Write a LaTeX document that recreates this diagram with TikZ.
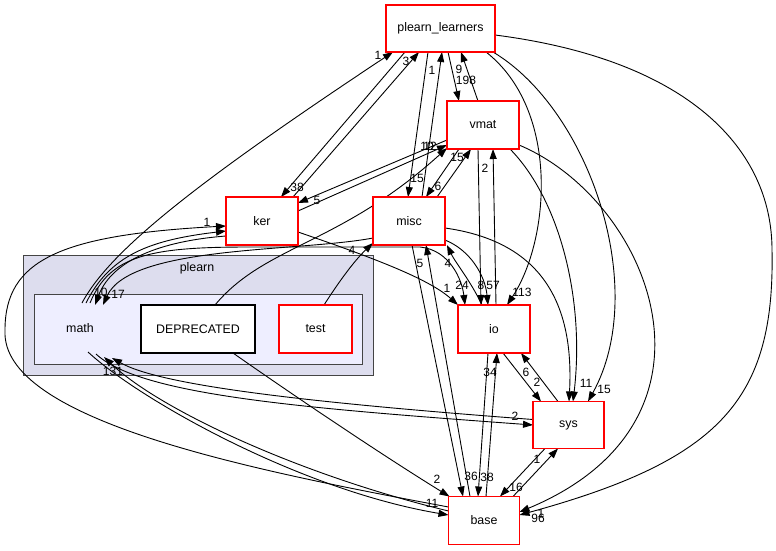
\documentclass[tikz,border=0pt]{standalone}
\usepackage{fontspec}
\setmainfont{Liberation Sans}
\usetikzlibrary{arrows.meta,backgrounds}
\definecolor{outerfill}{HTML}{DDDDEE}
\definecolor{innerfill}{HTML}{EEEEFF}
\definecolor{clborder}{HTML}{444444}
\definecolor{boxred}{HTML}{FF0000}
\begin{document}
\begin{tikzpicture}[x=1pt,y=-1pt,
  dirbox/.style={fill=white, outer sep=0pt, minimum width=72pt, minimum height=48pt, inner sep=0pt, font=\fontsize{12.4}{14}\selectfont},
  edge/.style={draw=black, line width=0.9pt, -{Triangle[length=10pt,width=7pt]}},
  lbl/.style={font=\fontsize{12}{14}\selectfont, inner sep=0pt},
  cltext/.style={font=\fontsize{12.4}{14}\selectfont, inner sep=0pt},
  outline/.style={draw=boxred, line width=1.4pt},
  outlineblack/.style={draw=black, line width=1.2pt}]
\useasboundingbox (0,0) rectangle (776,551);
% cluster labels
\node[cltext] (plearnlbl) at (197,268) {plearn};
\node[cltext] (math) at (80,328) {math};
% nodes
\node[dirbox, minimum width=109pt, minimum height=47pt] (pl) at (440.5,28.5) {plearn\_learners};
\node[dirbox] (vmat) at (483,125) {vmat};
\node[dirbox] (ker) at (262,221) {ker};
\node[dirbox] (misc) at (409,221) {misc};
\node[dirbox] (io) at (494,329) {io};
\node[dirbox, minimum width=71pt, minimum height=47pt] (sys) at (568.5,425) {sys};
\node[dirbox, minimum width=71pt] (base) at (484,520.5) {base};
\node[dirbox, minimum width=114pt] (dep) at (198,329) {DEPRECATED};
\node[dirbox, minimum width=73pt] (test) at (315.5,329) {test};
% math ports
\coordinate (m1) at (82,303);
\coordinate (m2) at (90,303);
\coordinate (m3) at (95,305);
\coordinate (m4) at (103,305);
\coordinate (m5) at (86,303);
\coordinate (m6) at (88,352);
\coordinate (m7) at (104,357);
\coordinate (m8) at (112,358);
\coordinate (m9) at (96,354);
\coordinate (fl) at (5,330);
\coordinate (fr) at (772,250);
\begin{pgfonlayer}{background}
% clusters
\filldraw[fill=outerfill, draw=clborder, line width=1pt] (23,255) rectangle (373,375);
\filldraw[fill=innerfill, draw=clborder, line width=1pt] (34,294) rectangle (362,364);
% edges
\draw[edge] (m1) .. controls (110,250) and (200,180) .. ([xshift=-47.5pt]pl.south);
\draw[edge] ([xshift=-35.5pt]pl.south) -- ([xshift=19pt]ker.north);
\draw[edge] ([xshift=31pt]ker.north) -- ([xshift=-21.5pt]pl.south);
\draw[edge] ([xshift=-12.5pt]pl.south) -- ([xshift=-1pt]misc.north);
\draw[edge] ([xshift=13pt]misc.north) -- ([xshift=1.5pt]pl.south);
\draw[edge] ([xshift=7.5pt]pl.south) -- ([xshift=-24pt]vmat.north);
\draw[edge] ([xshift=-5pt]vmat.north) -- ([xshift=20.5pt]pl.south);
\draw[edge] ([xshift=45.5pt]pl.south) .. controls (560,110) and (550,240) .. ([xshift=13pt]io.north);
\draw[edge] ([xshift=52.5pt]pl.south) .. controls (590,110) and (650,290) .. ([xshift=19.5pt]sys.north);
\draw[edge] ([yshift=-6.5pt]pl.east) .. controls (690,60) and (772,150) .. (fr) .. controls (775,400) and (720,460) .. ([yshift=5.5pt]base.east);
\draw[edge] ([yshift=-15pt]vmat.west) -- ([yshift=18pt]ker.east);
\draw[edge] ([yshift=10pt]ker.east) -- ([yshift=-20pt]vmat.west);
\draw[edge] ([xshift=17pt]dep.north) .. controls (265,245) and (340,245) .. ([yshift=-23pt]vmat.west);
\draw[edge] ([xshift=28pt]misc.north) -- ([xshift=-12pt]vmat.south);
\draw[edge] ([xshift=-24pt]vmat.south) -- ([xshift=17pt]misc.north);
\draw[edge] ([xshift=2pt]io.north) -- ([xshift=10pt]vmat.south);
\draw[edge] ([xshift=-5pt]vmat.south) -- ([xshift=-13pt]io.north);
\draw[edge] ([xshift=27pt]vmat.south) .. controls (560,200) and (585,300) .. ([xshift=4.5pt]sys.north);
\draw[edge] ([yshift=-20pt]vmat.east) .. controls (650,200) and (740,420) .. ([yshift=8.5pt]base.east);
\draw[edge] ([yshift=-7pt]misc.east) .. controls (530,240) and (575,290) .. ([xshift=0.5pt]sys.north);
\draw[edge] ([xshift=9pt]io.south) -- ([xshift=-27.5pt]sys.north);
\draw[edge] ([xshift=-10.5pt]sys.north) -- ([xshift=27pt]io.south);
\draw[edge] ([xshift=-23.5pt]sys.south) -- ([xshift=16pt]base.north);
\draw[edge] ([xshift=29pt]base.north) -- ([xshift=-10.5pt]sys.south);
\draw[edge] ([xshift=-6pt]io.south) -- ([xshift=-6pt]base.north);
\draw[edge] ([xshift=2pt]base.north) -- ([xshift=3pt]io.south);
\draw[edge] ([xshift=3pt]misc.south) -- ([xshift=-21pt]base.north);
\draw[edge] ([xshift=-14pt]base.north) -- ([xshift=17pt]misc.south);
\draw[edge] ([xshift=-12pt]io.north) .. controls (470,280) and (455,262) .. ([xshift=2pt]misc.south east);
\draw[edge] ([yshift=-19pt]misc.east) .. controls (470,250) and (485,275) .. ([xshift=-6pt]io.north);
\draw[edge] ([yshift=-11pt]ker.east) .. controls (380,260) and (430,280) .. ([xshift=-36pt]io.north);
\draw[edge] (m2) .. controls (110,255) and (150,247) .. (250,247) -- (420,247) .. controls (450,250) and (462,280) .. ([xshift=-29pt]io.north);
\draw[edge] ([yshift=-15pt]ker.west) .. controls (150,242) and (110,265) .. (m3);
\draw[edge] ([yshift=-17pt]misc.west) .. controls (300,252) and (130,245) .. (m4);
\draw[edge] (m5) .. controls (110,255) and (150,240) .. ([yshift=-10pt]ker.west);
\draw[edge] ([yshift=13.5pt]base.west) .. controls (250,470) and (0,420) .. (fl) .. controls (5,260) and (60,235) .. ([yshift=-5pt]ker.west);
\draw[edge] ([xshift=8.5pt]test.north) .. controls (340,280) and (355,260) .. ([yshift=-22pt]misc.west);
\draw[edge] ([xshift=35pt]dep.south) .. controls (300,400) and (390,460) .. ([xshift=1pt]base.north west);
\draw[edge] (m6) .. controls (140,400) and (300,490) .. ([yshift=5.5pt]base.west);
\draw[edge] ([yshift=9.5pt]base.west) .. controls (300,475) and (160,410) .. (m7);
\draw[edge] ([yshift=5.5pt]sys.west) .. controls (300,402) and (160,385) .. (m8);
\draw[edge] (m9) .. controls (140,395) and (300,408) .. (sys.west);
\end{pgfonlayer}
% box outlines drawn on top
\foreach \n in {pl,vmat,ker,misc,io,sys,base,test}
  \draw[outline] (\n.south west) rectangle (\n.north east);
\draw[outlineblack] (dep.south west) rectangle (dep.north east);
% labels
\node[lbl] (l1) at (378,55) {1};
\node[lbl] (l2) at (297,187) {38};
\node[lbl] (l3) at (406,61) {3};
\node[lbl] (l4) at (417,178) {15};
\node[lbl] (l5) at (432,70) {1};
\node[lbl] (l6) at (459,69) {9};
\node[lbl] (l7) at (466,80) {198};
\node[lbl] (l8) at (522,292) {113};
\node[lbl] (l9) at (604,389) {15};
\node[lbl] (l10) at (538,518) {96};
\node[lbl] (l10b) at (541,513) {1};
\node[lbl] (l11) at (317,200) {5};
\node[lbl] (l12) at (430,146) {12};
\node[lbl] (l13) at (427,146) {10};
\node[lbl] (l14) at (457,157) {15};
\node[lbl] (l15) at (438,186) {6};
\node[lbl] (l16) at (485,168) {2};
\node[lbl] (l17) at (481,285) {8};
\node[lbl] (l17b) at (493,285) {57};
\node[lbl] (l18) at (586,383) {11};
\node[lbl] (l21) at (537,382) {2};
\node[lbl] (l22) at (526,372) {6};
\node[lbl] (l23) at (516,487) {16};
\node[lbl] (l24) at (537,459) {1};
\node[lbl] (l25) at (487,477) {38};
\node[lbl] (l26) at (490,372) {34};
\node[lbl] (l27) at (471,476) {36};
\node[lbl] (l28) at (420,263) {5};
\node[lbl] (l29) at (448,263) {4};
\node[lbl] (l31) at (447,288) {1};
\node[lbl] (l32) at (462,285) {24};
\node[lbl] (l33) at (101,292) {10};
\node[lbl] (l34) at (118,294) {17};
\node[lbl] (l37) at (207,222) {1};
\node[lbl] (l38) at (352,250) {4};
\node[lbl] (l39) at (437,479) {2};
\node[lbl] (l40) at (432,503) {11};
\node[lbl] (l42) at (113,371) {131};
\node[lbl] (l43) at (515,416) {2};
\end{tikzpicture}
\end{document}
